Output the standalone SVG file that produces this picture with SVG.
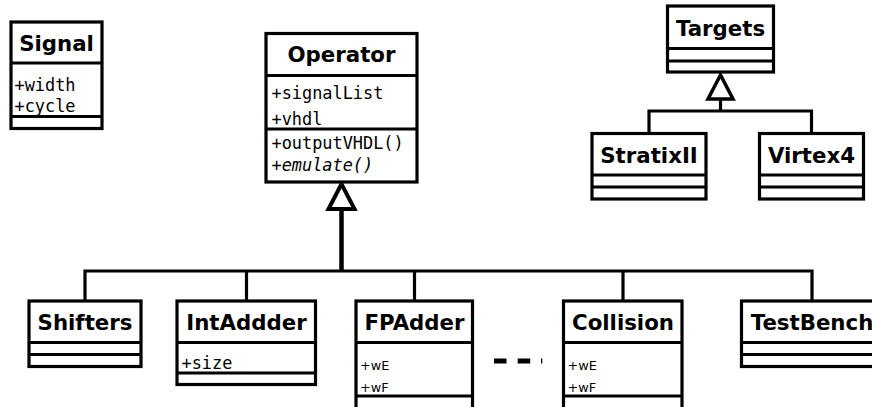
<svg xmlns="http://www.w3.org/2000/svg" width="872" height="407" viewBox="0 0 872 407">
<style>
.box{fill:#fff;stroke:#000;stroke-width:3.2}
.div{stroke:#000;stroke-width:3.2}
.title{font-family:"DejaVu Sans",sans-serif;font-weight:bold;font-size:21.3px;text-anchor:middle;fill:#000}
.attr{font-family:"DejaVu Sans Mono",monospace;font-size:16.9px;fill:#000}
.small{font-family:"DejaVu Sans",sans-serif;font-size:12.8px;fill:#000}
.conn{fill:none;stroke:#000;stroke-width:3.2}
.tri{fill:#fff;stroke:#000;stroke-width:3.5}
</style>
<rect width="872" height="407" fill="#fff"/>
<g id="connectors">
  <line class="conn" x1="341.5" y1="209" x2="341.5" y2="271" style="stroke-width:4.5"/>
  <polygon class="tri" points="341.5,184 328.5,209 354.5,209" style="stroke-width:4"/>
  <polyline class="conn" points="85,300 85,271 812,271 812,300"/>
  <line class="conn" x1="246.5" y1="271" x2="246.5" y2="300"/>
  <line class="conn" x1="414.5" y1="271" x2="414.5" y2="300"/>
  <line class="conn" x1="623" y1="271" x2="623" y2="300"/>
  <line class="conn" x1="720.5" y1="99" x2="720.5" y2="111"/>
  <polygon class="tri" points="720.5,75 708,99 733,99"/>
  <polyline class="conn" points="649,133 649,111 811.5,111 811.5,133"/>
</g>
<g id="Signal">
  <rect class="box" x="11" y="22" width="91" height="106.5"/>
  <line class="div" x1="11" y1="63" x2="102" y2="63"/>
  <line class="div" x1="11" y1="116.5" x2="102" y2="116.5"/>
  <text class="title" x="56.5" y="51">Signal</text>
  <text class="attr" x="14.5" y="91">+width</text>
  <text class="attr" x="14.5" y="111.5">+cycle</text>
</g>
<g id="Operator">
  <rect class="box" x="266" y="33.5" width="151" height="148.5"/>
  <line class="div" x1="266" y1="75.5" x2="417" y2="75.5"/>
  <line class="div" x1="266" y1="129" x2="417" y2="129"/>
  <text class="title" x="341.5" y="61.5">Operator</text>
  <text class="attr" x="271.5" y="99">+signalList</text>
  <text class="attr" x="271.5" y="125">+vhdl</text>
  <text class="attr" x="271.5" y="148.5">+outputVHDL()</text>
  <text class="attr" x="271.5" y="171" font-style="italic">+emulate()</text>
</g>
<g id="Targets">
  <rect class="box" x="667.5" y="6" width="106" height="66"/>
  <line class="div" x1="667.5" y1="48.5" x2="773.5" y2="48.5"/>
  <line class="div" x1="667.5" y1="61" x2="773.5" y2="61"/>
  <text class="title" x="720.5" y="36">Targets</text>
</g>
<g id="StratixII">
  <rect class="box" x="592" y="133.5" width="114" height="65.5"/>
  <line class="div" x1="592" y1="175" x2="706" y2="175"/>
  <line class="div" x1="592" y1="187" x2="706" y2="187"/>
  <text class="title" x="649" y="162.5">StratixII</text>
</g>
<g id="Virtex4">
  <rect class="box" x="759.5" y="133.5" width="104" height="65.5"/>
  <line class="div" x1="759.5" y1="175" x2="863.5" y2="175"/>
  <line class="div" x1="759.5" y1="187" x2="863.5" y2="187"/>
  <text class="title" x="811.5" y="162.5">Virtex4</text>
</g>
<g id="Shifters">
  <rect class="box" x="29" y="301" width="112" height="65.5"/>
  <line class="div" x1="29" y1="342.5" x2="141" y2="342.5"/>
  <line class="div" x1="29" y1="354.5" x2="141" y2="354.5"/>
  <text class="title" x="85" y="330">Shifters</text>
</g>
<g id="IntAddder">
  <rect class="box" x="177" y="301" width="138.5" height="83.5"/>
  <line class="div" x1="177" y1="342.5" x2="315.5" y2="342.5"/>
  <line class="div" x1="177" y1="373" x2="315.5" y2="373"/>
  <text class="title" x="246.5" y="330">IntAddder</text>
  <text class="attr" x="181.5" y="368.5">+size</text>
</g>
<g id="FPAdder">
  <rect class="box" x="356" y="301" width="116.5" height="110"/>
  <line class="div" x1="356" y1="342.5" x2="472.5" y2="342.5"/>
  <line class="div" x1="356" y1="396" x2="472.5" y2="396"/>
  <text class="title" x="414.5" y="330">FPAdder</text>
  <text class="small" x="360" y="369.5">+wE</text>
  <text class="small" x="360" y="391.5">+wF</text>
</g>
<g id="Collision">
  <rect class="box" x="563.5" y="301" width="118.5" height="110"/>
  <line class="div" x1="563.5" y1="342.5" x2="682" y2="342.5"/>
  <line class="div" x1="563.5" y1="396" x2="682" y2="396"/>
  <text class="title" x="623" y="330">Collision</text>
  <text class="small" x="567.5" y="369.5">+wE</text>
  <text class="small" x="567.5" y="391.5">+wF</text>
</g>
<g id="TestBench">
  <rect class="box" x="741.5" y="301" width="141" height="65.5"/>
  <line class="div" x1="741.5" y1="342.5" x2="882.5" y2="342.5"/>
  <line class="div" x1="741.5" y1="354.5" x2="882.5" y2="354.5"/>
  <text class="title" x="812" y="330">TestBench</text>
</g>
<g id="ellipsis">
  <rect x="494" y="358.5" width="12.5" height="5" fill="#000"/>
  <rect x="517.7" y="358.5" width="12.5" height="5" fill="#000"/>
  <rect x="541" y="358.5" width="1.3" height="5" fill="#000"/>
</g>
</svg>
